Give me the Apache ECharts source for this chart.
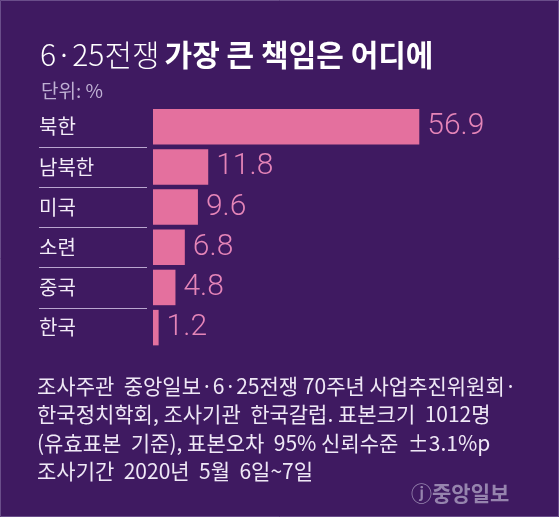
<!DOCTYPE html>
<html>
<head>
<meta charset="utf-8">
<script src="https://cdn.jsdelivr.net/npm/echarts@6/dist/echarts.min.js"></script>
<style>
html,body{margin:0;padding:0;background:#3f1a61;}
#c{width:559px;height:517px;}
</style>
</head>
<body>
<div id="c"></div>
<script>
const categories = ['북한', '남북한', '미국', '소련', '중국', '한국'];
const values = [56.9, 11.8, 9.6, 6.8, 4.8, 1.2];
const titleLight = '6·25전쟁';
const titleBold = '가장 큰 책임은 어디에';
const unitText = '단위: %';
const footerLines = [
  '조사주관  중앙일보·6·25전쟁 70주년 사업추진위원회·',
  '한국정치학회, 조사기관  한국갈럽. 표본크기  1012명',
  '(유효표본  기준), 표본오차  95% 신뢰수준  ±3.1%p',
  '조사기간  2020년  5월  6일~7일'
];
const sourceMark = 'ⓙ중앙일보';

const KR = '"Noto Sans CJK KR", "Noto Sans", sans-serif';
const chart = echarts.init(document.getElementById('c'), null, {renderer: 'canvas'});
const option = {
  backgroundColor: '#3f1a61',
  animation: false,
  title: [
    {
      left: 35, top: 32,
      text: '{a|' + titleLight + '} {b|' + titleBold + '}',
      textStyle: {
        rich: {
          a: {fontFamily: KR, fontSize: 30, fontWeight: 300, color: '#ffffff', lineHeight: 36},
          b: {fontFamily: KR, fontSize: 30, fontWeight: 'bold', color: '#ffffff', lineHeight: 36}
        }
      }
    },
    {
      left: 36, top: 74,
      text: unitText,
      textStyle: {fontFamily: KR, fontSize: 19, fontWeight: 'normal', color: '#bfb0d3', lineHeight: 24}
    },
    {
      left: 32, top: 366.75,
      text: footerLines.join('\n'),
      textStyle: {fontFamily: KR, fontSize: 21, fontWeight: 'normal', color: '#efe8f6', lineHeight: 28.5}
    },
    {
      left: 406, top: 476,
      text: sourceMark,
      textStyle: {fontFamily: KR, fontSize: 21, fontWeight: 'bold', color: '#9684ae', lineHeight: 24}
    }
  ],
  grid: {left: 153, top: 106.7, height: 241, right: 31.6, containLabel: false},
  xAxis: {type: 'value', min: 0, max: 80, show: false},
  yAxis: {
    type: 'category', data: categories, inverse: true,
    axisLine: {show: false}, axisTick: {show: false}, splitLine: {show: false},
    axisLabel: {
      align: 'left', margin: 114,
      fontFamily: KR, fontSize: 20, color: '#f3ecf8'
    }
  },
  series: [{
    type: 'bar', data: values, barWidth: 35.5,
    itemStyle: {color: '#e4709e'},
    label: {
      show: true, position: 'right', distance: 8,
      fontFamily: 'Roboto, "Liberation Sans", sans-serif', fontWeight: 300,
      fontSize: 30, color: '#e585b8'
    }
  }]
};
chart.setOption(option);

// separators between category rows, positioned from the category axis scale
const lines = [];
for (let i = 0; i < categories.length - 1; i++) {
  const y0 = chart.convertToPixel({yAxisIndex: 0}, categories[i]);
  const y1 = chart.convertToPixel({yAxisIndex: 0}, categories[i + 1]);
  const y = Math.round((y0 + y1) / 2) + 0.5;
  lines.push({
    type: 'line', shape: {x1: 39, y1: y, x2: 147, y2: y},
    style: {stroke: '#b9a6cf', lineWidth: 1}
  });
}
lines.push({
  type: 'rect', shape: {x: 0.5, y: 0.5, width: 558, height: 516},
  style: {fill: 'none', stroke: '#6a4e8a', lineWidth: 1}, silent: true
});
chart.setOption({graphic: lines});
</script>
</body>
</html>
